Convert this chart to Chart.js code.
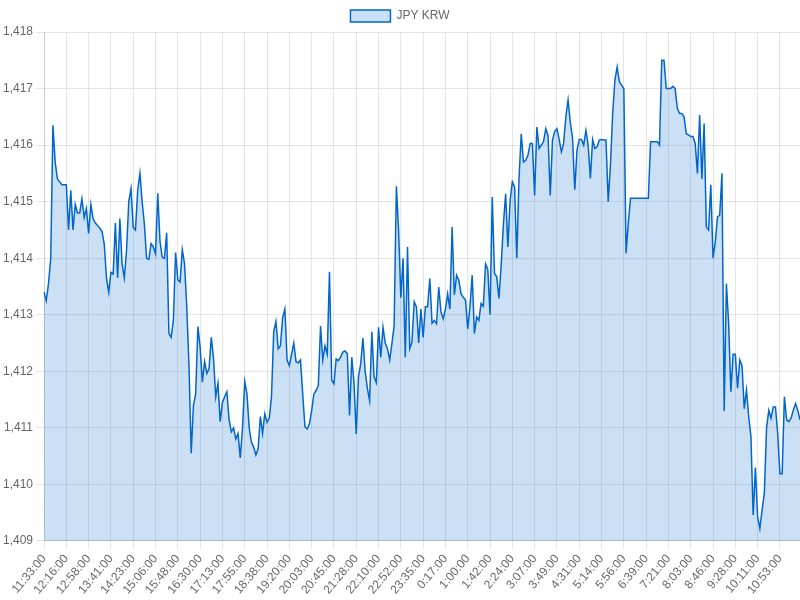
<!DOCTYPE html>
<html>
<head>
<meta charset="utf-8">
<script src="https://cdn.jsdelivr.net/npm/chart.js@4/dist/chart.umd.min.js"></script>
<style>
  html, body { margin: 0; padding: 0; background: #fff; }
  #wrap { width: 800px; height: 600px; }
</style>
</head>
<body>
<div id="wrap"><canvas id="myChart"></canvas></div>
<script>
// shown time labels, one every 10 points
const tickLabels = [
  "11:33:00", "12:16:00", "12:58:00", "13:41:00", "14:23:00", "15:06:00",
  "15:48:00", "16:30:00", "17:13:00", "17:55:00", "18:38:00", "19:20:00",
  "20:03:00", "20:45:00", "21:28:00", "22:10:00", "22:52:00", "23:35:00",
  "0:17:00", "1:00:00", "1:42:00", "2:24:00", "3:07:00", "3:49:00",
  "4:31:00", "5:14:00", "5:56:00", "6:39:00", "7:21:00", "8:03:00",
  "8:46:00", "9:28:00", "10:11:00", "10:53:00"
];
const pointsPerTick = 10;

// JPY KRW rate
const rates = [
  1413.4, 1413.25, 1413.55, 1414.0, 1416.35, 1415.7, 1415.4, 1415.35, 1415.3, 1415.3,
  1415.3, 1414.5, 1415.2, 1414.5, 1414.95, 1414.8, 1414.8, 1415.05, 1414.72, 1414.88,
  1414.44, 1414.95, 1414.7, 1414.62, 1414.58, 1414.53, 1414.47, 1414.25, 1413.65, 1413.4,
  1413.75, 1413.72, 1414.62, 1413.65, 1414.7, 1413.9, 1413.65, 1414.14, 1415.0, 1415.23,
  1414.55, 1414.5, 1415.2, 1415.5, 1415.0, 1414.6, 1414.0, 1413.98, 1414.26, 1414.2,
  1414.08, 1415.15, 1414.3, 1414.02, 1414.0, 1414.45, 1412.67, 1412.6, 1412.9, 1414.1,
  1413.62, 1413.58, 1414.15, 1413.9, 1413.15, 1412.1, 1410.55, 1411.4, 1411.6, 1412.79,
  1412.43, 1411.81, 1412.17, 1411.96, 1412.05, 1412.6, 1412.23, 1411.55, 1411.79, 1411.11,
  1411.45, 1411.55, 1411.64, 1411.14, 1410.93, 1411.0, 1410.8, 1410.9, 1410.47, 1411.0,
  1411.82, 1411.6, 1411.0, 1410.75, 1410.66, 1410.52, 1410.63, 1411.2, 1410.9, 1411.25,
  1411.1, 1411.17, 1411.55, 1412.7, 1412.88, 1412.4, 1412.45, 1412.95, 1413.1, 1412.2,
  1412.1, 1412.3, 1412.5, 1412.17, 1412.15, 1412.2, 1411.6, 1411.02, 1410.98, 1411.07,
  1411.3, 1411.6, 1411.66, 1411.75, 1412.8, 1412.2, 1412.45, 1412.3, 1413.76, 1411.84,
  1411.78, 1412.22, 1412.19, 1412.25, 1412.34, 1412.36, 1412.31, 1411.22, 1412.25, 1411.81,
  1410.89, 1411.9, 1412.13, 1412.59, 1412.0, 1411.7, 1411.48, 1412.7, 1411.9, 1411.8,
  1412.78, 1412.25, 1412.78, 1412.5, 1412.4, 1412.2, 1412.49, 1412.81, 1415.27, 1414.5,
  1413.3, 1414.0, 1412.25, 1414.2, 1412.4, 1412.52, 1413.23, 1413.14, 1412.5, 1413.1,
  1412.6, 1413.14, 1413.14, 1413.64, 1412.85, 1412.9, 1412.84, 1413.49, 1413.05, 1412.93,
  1413.1, 1413.37, 1413.1, 1414.55, 1413.35, 1413.7, 1413.61, 1413.37, 1413.31, 1413.26,
  1412.75, 1413.14, 1413.7, 1412.67, 1412.96, 1412.9, 1413.2, 1413.15, 1413.9, 1413.8,
  1413.0, 1415.08, 1413.73, 1413.67, 1413.29, 1413.88, 1414.6, 1415.14, 1414.2, 1415.02,
  1415.35, 1415.26, 1414.0, 1415.41, 1416.2, 1415.7, 1415.73, 1415.82, 1416.03, 1416.03,
  1415.11, 1416.32, 1415.94, 1416.0, 1416.06, 1416.29, 1416.17, 1415.11, 1416.09, 1416.24,
  1416.29, 1416.1, 1415.88, 1416.03, 1416.5, 1416.8, 1416.4, 1416.12, 1415.21, 1415.91,
  1416.1, 1416.1, 1416.0, 1416.26, 1416.0, 1415.41, 1416.1, 1415.94, 1415.97, 1416.09,
  1416.1, 1416.09, 1416.09, 1415.0, 1415.65, 1416.56, 1417.15, 1417.38, 1417.12, 1417.06,
  1417.0, 1414.09, 1414.62, 1415.06, 1415.06, 1415.06, 1415.06, 1415.06, 1415.06, 1415.06,
  1415.06, 1415.06, 1416.06, 1416.06, 1416.06, 1416.06, 1416.0, 1417.5, 1417.5, 1417.0,
  1417.0, 1417.0, 1417.04, 1417.0, 1416.65, 1416.56, 1416.56, 1416.5, 1416.2, 1416.18,
  1416.15, 1416.15, 1416.03, 1415.5, 1416.53, 1415.4, 1416.38, 1414.55, 1414.5, 1415.3,
  1414.0, 1414.28, 1414.73, 1414.76, 1415.5, 1411.3, 1413.55, 1412.85, 1411.64, 1412.3,
  1412.3, 1411.7, 1412.2, 1412.1, 1411.34, 1411.67, 1411.2, 1410.84, 1409.46, 1410.3,
  1409.43, 1409.22, 1409.55, 1409.84, 1411.0, 1411.31, 1411.17, 1411.37, 1411.37, 1410.9,
  1410.19, 1410.19, 1411.55, 1411.14, 1411.11, 1411.17, 1411.31, 1411.43, 1411.31, 1411.14
];

// category labels: time on every 10th point, blank between
const labels = rates.map((v, i) =>
  i % pointsPerTick === 0 ? (tickLabels[i / pointsPerTick] || "") : ""
);

const ctx = document.getElementById("myChart").getContext("2d");

const data = {
  labels: labels,
  datasets: [
    {
      label: "JPY KRW",
      data: rates,
      borderColor: "rgb(0, 102, 204)",
      backgroundColor: "rgba(0, 102, 204, 0.2)",
      borderWidth: 1.5,
      pointRadius: 0,
      pointHoverRadius: 0,
      tension: 0,
      fill: true,
    },
  ],
};

const config = {
  type: "line",
  data: data,
  options: {
    responsive: true,
    maintainAspectRatio: false,
    animation: false,
    scales: {
      x: {
        grid: {
          color: (c) => (c.tick && c.tick.label ? "rgba(0,0,0,0.1)" : "rgba(0,0,0,0)"),
        },
        ticks: {
          autoSkip: false,
          maxRotation: 50,
          callback: function (value) {
            const l = this.getLabelForValue(value);
            return l ? l : null;
          },
        },
      },
      y: {
        min: 1409,
        max: 1418,
        ticks: { stepSize: 1 },
      },
    },
    plugins: {
      legend: { display: true, position: "top" },
      tooltip: { enabled: false },
    },
  },
};

const rateChart = new Chart(ctx, config);
</script>
</body>
</html>
